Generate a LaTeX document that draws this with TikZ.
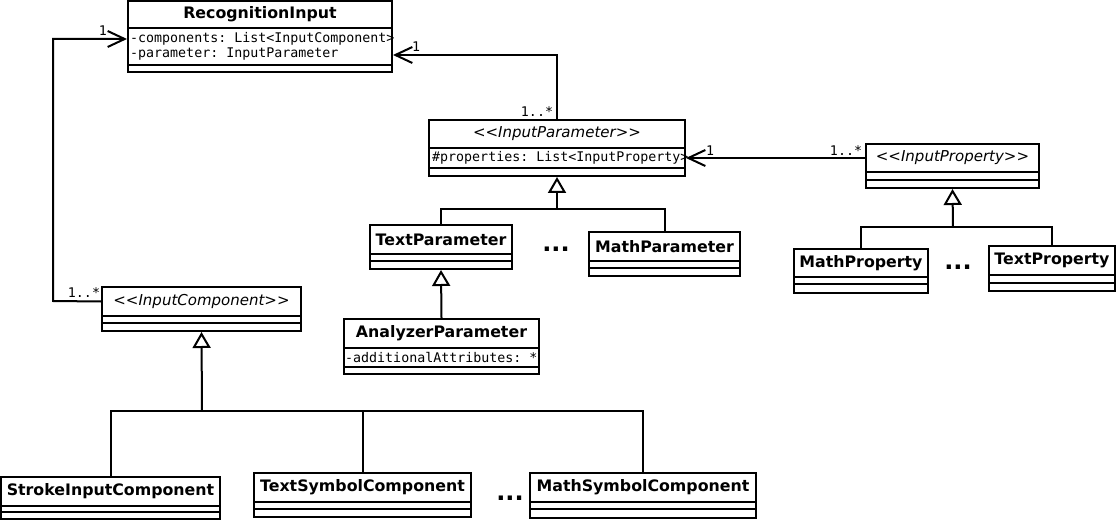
\documentclass[tikz,border=0pt]{standalone}
\usepackage{fontspec}
\setmainfont{DejaVu Sans}
\setmonofont{DejaVu Sans Mono}
\usetikzlibrary{arrows.meta}
\tikzset{
  classbox/.style={draw, line width=2pt, fill=white, inner sep=0pt},
  compline/.style={line width=2pt},
  classname/.style={font=\fontsize{15.8}{17}\selectfont\bfseries, inner sep=0pt},
  attr/.style={font=\fontsize{13.3}{15}\selectfont\ttfamily, anchor=west, align=left, inner sep=0pt},
  mult/.style={font=\fontsize{13.3}{15}\selectfont\ttfamily, inner sep=0pt},
  assoc/.style={line width=2pt, -{Straight Barb[length=17pt,width=16pt]}},
  inherit/.style={line width=2pt, -{Triangle[open,fill=white,length=16pt,width=18pt]}},
  etc/.style={font=\fontsize{24}{24}\selectfont\bfseries, inner sep=0pt},
}
% name, left, top, right, line 1, line 2, bottom, title
\def\umlclass#1#2#3#4#5#6#7#8{%
  \node[classbox, minimum width={(#4-#2)*1pt}, minimum height={(#7-#3)*1pt}] (#1) at ({(#2+#4)/2},{(#3+#7)/2}) {};
  \draw[compline] (#2,#5) -- (#4,#5) (#2,#6) -- (#4,#6);
  \node[classname] (#1-name) at ({(#2+#4)/2},{(#3+#5)/2}) {#8};
}
\def\iface#1{\fontsize{15}{17}\selectfont\mdseries\itshape <{}<#1>{}>}

\begin{document}
\begin{tikzpicture}[x=1pt,y=-1pt]
  \useasboundingbox (0,0) rectangle (1116,521);

  %%%%% CLASSES %%%%%
  \umlclass{recinput}{128}{1}{392}{28}{65}{72}{RecognitionInput}
  \node[attr] (recinput-attr) at (130,46.5) {-components: List<InputComponent>\\-parameter: InputParameter};

  \umlclass{iparam}{429}{120}{685}{148}{168}{176}{\iface{InputParameter}}
  \node[attr] (iparam-attr) at (432,158) {\#properties: List<InputProperty>};

  \umlclass{iprop}{866}{144}{1039}{172}{180}{188}{\iface{InputProperty}}
  \umlclass{mathprop}{794}{249}{928}{277}{284}{293}{MathProperty}
  \umlclass{textprop}{989}{246}{1115}{275}{283}{291}{TextProperty}

  \umlclass{textparam}{370}{225}{512}{254}{261}{269}{TextParameter}
  \umlclass{mathparam}{589}{232}{740}{261}{268}{276}{MathParameter}
  \umlclass{analyzer}{344}{319}{539}{348}{367}{374}{AnalyzerParameter}
  \node[attr] (analyzer-attr) at (345,357.5) {-additionalAttributes: *};

  \umlclass{icomp}{102}{287}{301}{316}{323}{331}{\iface{InputComponent}}
  \umlclass{stroke}{1}{477}{220}{506}{512}{519}{StrokeInputComponent}
  \umlclass{textsym}{254}{473}{471}{502}{509}{517}{TextSymbolComponent}
  \umlclass{mathsym}{530}{473}{756}{502}{509}{518}{MathSymbolComponent}

  \node[etc] (paramdots) at (556,249) {...};
  \node[etc] (propdots) at (958,267) {...};
  \node[etc] (compdots) at (510,498) {...};

  %%%%% GENERALIZATIONS %%%%%
  \coordinate (paramjoin) at (557,209);
  \draw[compline] (textparam.north) |- (paramjoin) -| (mathparam.north);
  \draw[inherit] (paramjoin) -- (iparam.south);
  \draw[inherit] (analyzer.north) -- (textparam.south);

  \coordinate (propjoin) at (953,227);
  \draw[compline] (mathprop.north) |- (propjoin) -| (textprop.north);
  \draw[inherit] (propjoin) -- (iprop.south);

  \coordinate (compjoin) at (202,411);
  \draw[compline] (stroke.north) |- (compjoin) -| (mathsym.north);
  \draw[compline] (textsym.north) -- (textsym.north |- compjoin);
  \draw[inherit] (compjoin) -- (icomp.south);

  %%%%% ASSOCIATIONS %%%%%
  \draw[assoc] (icomp.west |- icomp-name) -- (53,301) |- (recinput.west |- 0,39);
  \node[mult] (icomp-mult) at (84,293) {1..*};
  \node[mult] (recinput-mult1) at (103,31) {1};

  \draw[assoc] (iparam.north) |- (recinput.east |- 0,55);
  \node[mult] (iparam-mult) at (537,112) {1..*};
  \node[mult] (recinput-mult2) at (416,47) {1};

  \draw[assoc] (iprop.west |- iprop-name) -- (iparam.east |- iprop-name);
  \node[mult] (iprop-mult) at (846,151) {1..*};
  \node[mult] (iparam-mult2) at (710,151) {1};
\end{tikzpicture}
\end{document}
